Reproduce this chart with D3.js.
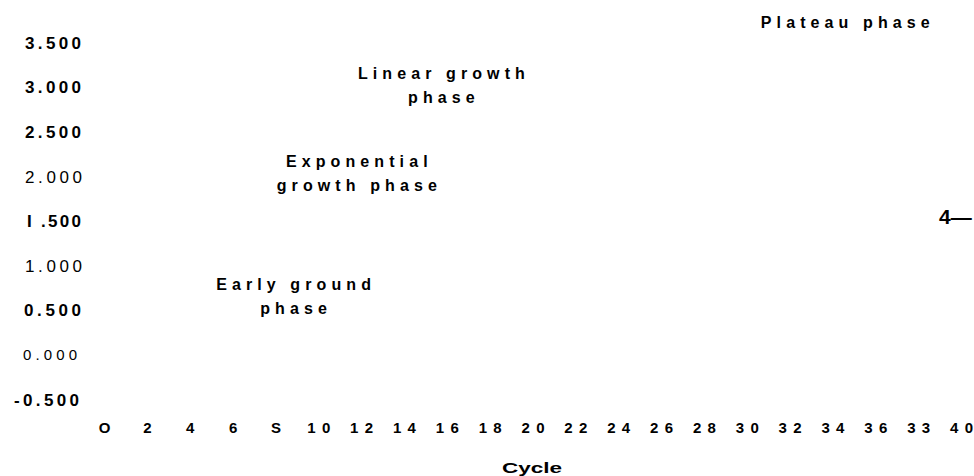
<!DOCTYPE html>
<html>
<head>
<meta charset="utf-8">
<script src="https://cdn.jsdelivr.net/npm/d3@7"></script>
<style>
  html, body { margin: 0; padding: 0; background: #fff; }
  svg { display: block; font-family: "Liberation Sans", Arial, sans-serif; }
</style>
</head>
<body>
<svg id="chart" width="974" height="476"></svg>
<script>
// tick values and the labels as printed on the figure
const xTickValues = [0, 2, 4, 6, 8, 10, 12, 14, 16, 18, 20, 22, 24, 26, 28, 30, 32, 34, 36, 38, 40];
const xTickLabels = ["O", "2", "4", "6", "S", "10", "12", "14", "16", "18", "20", "22", "24", "26", "28", "30", "32", "34", "36", "33", "40"];
const yTickValues = [3.5, 3.0, 2.5, 2.0, 1.5, 1.0, 0.5, 0.0, -0.5];
const yTickLabels = ["3.500", "3.000", "2.500", "2.000", "I .500", "1.000", "0.500", "0.000", "-0.500"];
const xTitle = "Cycle";

// phase notes, anchored in data units (cycle, fluorescence)
const phaseLines = [
  ["Plateau phase"],
  ["Linear growth", "phase"],
  ["Exponential", "growth phase"],
  ["Early ground", "phase"],
];
const phaseCycle = [34.6, 15.75, 11.8, 8.85];
const phaseValue = [3.655, 3.09, 2.105, 0.72];

const svg = d3.select("#chart");

const x = d3.scaleLinear().domain([0, 40]).range([104, 961]);
const y = d3.scaleLinear().domain([-0.5, 3.5]).range([399, 42]);

// y axis: labels only, mixed weights like the scan
const plainTicks = { "2.000": "normal", "1.000": "normal", "0.000": "thin" };
// printed width of a few odd labels
const labelWidth = { "I .500": 54, "-0.500": 65, "0.500": 57 };

const yAxis = svg.append("g")
  .attr("transform", "translate(81,0)")
  .call(d3.axisLeft(y).tickValues(yTickValues).tickSize(0).tickPadding(0)
    .tickFormat((d, i) => yTickLabels[i]));
yAxis.select(".domain").remove();
yAxis.selectAll("text")
  .attr("fill", "#000")
  .attr("dy", "0.36em")
  .style("font-family", "'Liberation Sans', Arial, sans-serif")
  .each(function(d, i) {
    let lbl = yTickLabels[i];
    let kind = plainTicks[lbl];
    let t = d3.select(this);
    if (kind === "thin") {
      t.attr("x", -4).attr("textLength", 54).attr("lengthAdjust", "spacing")
        .style("font-size", "15px").style("font-weight", "normal");
    } else if (kind === "normal") {
      t.attr("x", 1).attr("textLength", 57).attr("lengthAdjust", "spacing")
        .style("font-size", "17px").style("font-weight", "normal");
    } else {
      t.attr("x", lbl === "-0.500" ? -2 : 0)
        .attr("textLength", labelWidth[lbl] || 56).attr("lengthAdjust", "spacing")
        .style("font-size", "17px").style("font-weight", "bold");
    }
  });

// x axis: labels only
const xAxis = svg.append("g")
  .attr("transform", "translate(0,428)")
  .call(d3.axisBottom(x).tickValues(xTickValues).tickSize(0).tickPadding(0)
    .tickFormat((d, i) => xTickLabels[i]));
xAxis.select(".domain").remove();
xAxis.selectAll("text")
  .attr("fill", "#000")
  .attr("dy", "0.36em")
  .style("font-family", "'Liberation Sans', Arial, sans-serif")
  .style("font-size", "15px")
  .style("font-weight", "bold")
  .each(function(d, i) {
    if (xTickLabels[i].length > 1) {
      d3.select(this).attr("textLength", 23).attr("lengthAdjust", "spacing");
    }
  });

svg.append("text")
  .attr("x", 502)
  .attr("y", 473)
  .attr("textLength", 60)
  .attr("lengthAdjust", "spacingAndGlyphs")
  .style("font-size", "14px")
  .style("font-weight", "bold")
  .text(xTitle);

// phase annotations
phaseLines.forEach((lines, k) => {
  let txt = svg.append("text")
    .attr("x", x(phaseCycle[k]))
    .attr("y", y(phaseValue[k]))
    .attr("text-anchor", "middle")
    .style("font-size", "16px")
    .style("font-weight", "bold")
    .style("letter-spacing", "5.1px");
  lines.forEach((line, j) => {
    txt.append("tspan")
      .attr("x", x(phaseCycle[k]) + 2.5)
      .attr("dy", j === 0 ? 0 : 24)
      .text(line);
  });
});

// stray curve label on the right edge
svg.append("text")
  .attr("x", 939)
  .attr("y", 224)
  .style("font-size", "21px")
  .style("font-weight", "bold")
  .text("4—");
</script>
</body>
</html>
